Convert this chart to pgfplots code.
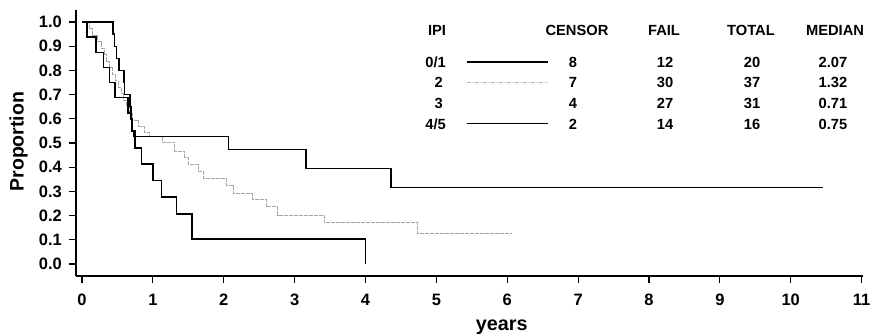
\documentclass[border=0pt]{standalone}
\usepackage{fontspec}
\setmainfont{Liberation Sans}
\usepackage{pgfplots}
\pgfplotsset{compat=1.18}
\begin{document}
\begin{tikzpicture}[font=\bfseries]
\begin{axis}[
  at={(0,0)}, anchor=south west,
  scale only axis, width=787pt, height=266pt,
  xmin=-0.085, xmax=11.02, ymin=-0.05, ymax=1.05,
  axis x line=bottom, axis y line=left,
  axis line style={-, line width=1.4pt},
  xtick={0,1,...,11}, ytick={0,0.1,...,1.0},
  tick align=outside, major tick length=7pt,
  tick style={line width=1.2pt, black},
  /pgf/number format/assume math mode=true,
  ticklabel style={font=\fontsize{16.5}{18}\selectfont\bfseries},
  xticklabel style={anchor=north, inner sep=0pt, yshift=-11pt},
  yticklabel style={anchor=east, inner sep=0pt, xshift=-7pt, /pgf/number format/fixed, /pgf/number format/fixed zerofill, /pgf/number format/precision=1},
  xlabel={years}, ylabel={Proportion},
  xlabel style={font=\fontsize{19.8}{22}\selectfont\bfseries, at={(axis description cs:0.541,0)}, anchor=center, yshift=-51pt},
  ylabel style={font=\fontsize{19.5}{22}\selectfont\bfseries, at={(axis description cs:0,0.505)}, anchor=center, yshift=57.5pt},
  clip=false,
]
% IPI 2 (gray)
\addplot[const plot, gray!70, line width=0.9pt, dash pattern=on 4pt off 1pt] table {
x y
0 1
0.10 0.973
0.15 0.946
0.22 0.919
0.27 0.892
0.31 0.865
0.35 0.838
0.39 0.811
0.43 0.784
0.47 0.757
0.51 0.730
0.55 0.703
0.59 0.676
0.63 0.649
0.67 0.622
0.71 0.595
0.80 0.568
0.88 0.545
0.95 0.527
1.13 0.504
1.31 0.467
1.45 0.44
1.50 0.413
1.64 0.384
1.71 0.355
2.04 0.326
2.13 0.293
2.40 0.268
2.60 0.236
2.76 0.202
3.42 0.170
4.74 0.124
6.07 0.124
};
% IPI 4/5
\addplot[const plot, black, line width=1.5pt] table {
x y
0 1
0.07 0.9375
0.20 0.875
0.30 0.8125
0.39 0.75
0.465 0.6875
0.65 0.625
0.70 0.55
0.75 0.48
0.84 0.413
1.00 0.345
1.12 0.276
1.33 0.207
1.55 0.103
4.00 0.103
4.00 0.0
};
% IPI 0/1
\addplot[const plot, black, line width=1.5pt] table {
x y
0 1
0.44 0.95
0.46 0.90
0.49 0.85
0.52 0.80
0.59 0.75
0.60 0.70
0.68 0.65
0.69 0.60
0.71 0.55
0.73 0.526
2.07 0.474
3.16 0.395
4.36 0.316
10.45 0.316
};
\end{axis}
% legend table
\begin{scope}[every node/.style={font=\fontsize{14.7}{16}\selectfont\bfseries, inner sep=0pt}]
\node at (361pt,246pt) {IPI};
\node at (501pt,246pt) {CENSOR};
\node at (588pt,246pt) {FAIL};
\node at (675pt,246pt) {TOTAL};
\node at (759pt,246pt) {MEDIAN};
\node[anchor=east] at (370pt,214pt) {0/1};
\node[anchor=east] at (367pt,194pt) {2};
\node[anchor=east] at (367pt,173pt) {3};
\node[anchor=east] at (370pt,152pt) {4/5};
\draw[black, line width=1.5pt] (391pt,214pt) -- (472pt,214pt);
\draw[gray!60, line width=0.8pt, dash pattern=on 4pt off 1.5pt on 1pt off 1.5pt] (391pt,194pt) -- (472pt,194pt);
\draw[black, line width=1pt] (391pt,152pt) -- (472pt,152pt);
\node at (497pt,214pt) {8};
\node at (497pt,194pt) {7};
\node at (497pt,173pt) {4};
\node at (497pt,152pt) {2};
\node at (589pt,214pt) {12};
\node at (589pt,194pt) {30};
\node at (589pt,173pt) {27};
\node at (589pt,152pt) {14};
\node at (676pt,214pt) {20};
\node at (676pt,194pt) {37};
\node at (676pt,173pt) {31};
\node at (676pt,152pt) {16};
\node at (757pt,214pt) {2.07};
\node at (757pt,194pt) {1.32};
\node at (757pt,173pt) {0.71};
\node at (757pt,152pt) {0.75};
\end{scope}
\pgfresetboundingbox
\path[use as bounding box] (-76pt,-60pt) rectangle (798pt,276pt);
\end{tikzpicture}
\end{document}
